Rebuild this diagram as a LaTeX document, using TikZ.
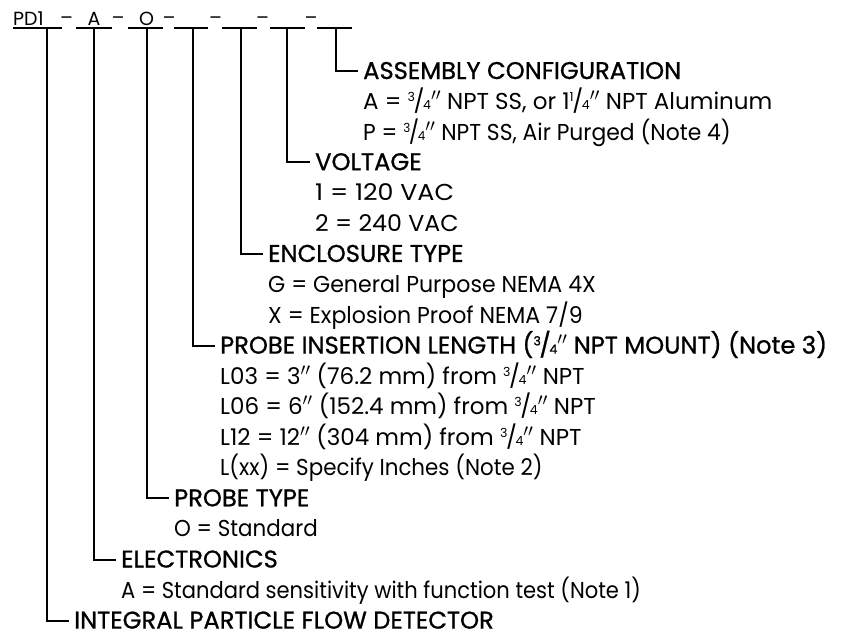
\documentclass[tikz,border=0pt]{standalone}
\usepackage{fontspec}
\setmainfont{Poppins}
\newcommand\fr[2]{{\raisebox{0.62ex}{\fontsize{12.5}{12.5}\selectfont#1}\kern-0.06em/\kern-0.06em{\fontsize{12.5}{12.5}\selectfont#2}}}
\newcommand\inch{\ensuremath{''}}
\newcommand\nar[2]{{\addfontfeature{FakeStretch=#1}#2}}
\begin{document}
\begin{tikzpicture}[x=1pt,y=-1pt,
  font=\fontsize{23}{27}\selectfont,
  conn/.style={line width=2pt},
  hdr/.style={anchor=west,inner xsep=5pt,inner ysep=0pt,text height=16pt,text depth=0pt,font=\fontsize{24.2}{27}\selectfont\addfontfeature{FakeBold=0.9}},
  val/.style={anchor=west,inner sep=0pt,text height=16pt,text depth=0pt},
  code/.style={anchor=base,inner sep=0pt,font=\fontsize{19}{23}\selectfont}]
\useasboundingbox (0,0) rectangle (843,633);
% header code
\node[code,anchor=base west] (pd) at (13,25) {PD1};
\node[code] (ca) at (94,25) {A};
\node[code] (co) at (146.7,25) {O};
\foreach \x/\n in {66.5/d1,118/d2,169/d3,215.5/d4,262.5/d5,311/d6}
  \node[code] (\n) at (\x,24.5) {–};
\foreach \a/\b in {13/62,76/112,128/163,174/208,222/257,270/305,317/352}
  \draw[conn] (\a,28.3) -- (\b,28.3);
% top coordinates of the connectors
\coordinate (t1) at (46.7,28.3);
\coordinate (t2) at (94,28.3);
\coordinate (t3) at (146.7,28.3);
\coordinate (t4) at (192.7,28.3);
\coordinate (t5) at (240.7,28.3);
\coordinate (t6) at (287.3,28.3);
\coordinate (t7) at (336,28.3);
% ASSEMBLY
\node[hdr] (h7) at (358,71) {ASSEMBLY CONFIGURATION};
\node[val] (v7a) at (363,101.6) {A = \fr34\inch\ NPT SS, or 1\fr14\inch\ NPT Aluminum};
\node[val] (v7b) at (363,132.1) {\nar{0.95}{P = \fr34\inch\ NPT SS, Air Purged (Note 4)}};
% VOLTAGE
\node[hdr] (h6) at (310,162.2) {VOLTAGE};
\node[val] (v6a) at (315,192.8) {\nar{1.1}{1 = 120 VAC}};
\node[val] (v6b) at (315,223.3) {\nar{1.03}{2 = 240 VAC}};
% ENCLOSURE
\node[hdr] (h5) at (263,253.9) {ENCLOSURE TYPE};
\node[val] (v5a) at (268,284.4) {\nar{0.96}{G = General Purpose NEMA 4X}};
\node[val] (v5b) at (268,315) {\nar{0.96}{X = Explosion Proof NEMA 7/9}};
% PROBE INSERTION
\node[hdr] (h4) at (215,345.6) {PROBE INSERTION LENGTH (\fr34\inch\ NPT MOUNT) (Note 3)};
\node[val] (v4a) at (220,376.1) {L03 = 3\inch\ (76.2 mm) from \fr34\inch\ NPT};
\node[val] (v4b) at (220,406.7) {L06 = 6\inch\ (152.4 mm) from \fr34\inch\ NPT};
\node[val] (v4c) at (220,437.2) {L12 = 12\inch\ (304 mm) from \fr34\inch\ NPT};
\node[val] (v4d) at (220,467.8) {\nar{0.93}{L(xx) = Specify Inches (Note 2)}};
% PROBE TYPE
\node[hdr] (h3) at (169,498.3) {PROBE TYPE};
\node[val] (v3a) at (174,528.9) {\nar{0.93}{O = Standard}};
% ELECTRONICS
\node[hdr] (h2) at (116,559.5) {ELECTRONICS};
\node[val] (v2a) at (121,590) {\nar{0.915}{A = Standard sensitivity with function test (Note 1)}};
% INTEGRAL
\node[hdr] (h1) at (69,620.6) {INTEGRAL PARTICLE FLOW DETECTOR};
% connectors
\foreach \i in {1,...,7}
  \draw[conn] (t\i) |- (h\i.west);
\end{tikzpicture}
\end{document}
